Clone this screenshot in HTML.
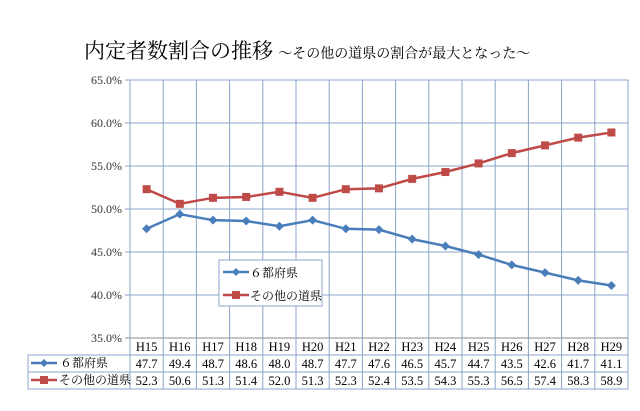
<!DOCTYPE html>
<html><head><meta charset="utf-8"><style>
body{margin:0;background:#fff;width:640px;height:406px;overflow:hidden}
svg text{font-family:"Liberation Serif","Noto Serif CJK SC",serif}
</style></head><body>
<svg width="640" height="406">
<script>
const cats=["H15","H16","H17","H18","H19","H20","H21","H22","H23","H24","H25","H26","H27","H28","H29"];
const seriesA=[47.7,49.4,48.7,48.6,48.0,48.7,47.7,47.6,46.5,45.7,44.7,43.5,42.6,41.7,41.1];
const seriesB=[52.3,50.6,51.3,51.4,52.0,51.3,52.3,52.4,53.5,54.3,55.3,56.5,57.4,58.3,58.9];
const yTicks=[35,40,45,50,55,60,65];
</script>
<text x="84" y="58" font-size="21" font-family="'Liberation Sans','Noto Sans CJK JP',sans-serif">内定者数割合の推移 <tspan font-size="14">～その他の道県の割合が最大となった～</tspan></text>
<g id="g"></g>
<script>
const NS="http://www.w3.org/2000/svg",g=document.getElementById('g');
const L=130,R=628,T=80,B=338,cw=(R-L)/cats.length;
const y=v=>B-(v-35)/30*(B-T), x=i=>L+cw*(i+0.5);
function mk(t,a,p){const e=document.createElementNS(NS,t);for(const k in a)e.setAttribute(k,a[k]);(p||g).appendChild(e);return e;}
yTicks.forEach(v=>{
 const l=mk('line',{x1:L-5,x2:R,y1:y(v),y2:y(v),stroke:v==35?'#888':'#8ba3c8','stroke-width':1});
 
 
 const t=mk('text',{x:L-8,y:y(v)+4,'font-size':12,'text-anchor':'end',fill:'#333'});t.textContent=v.toFixed(1)+'%';
 
 
});
for(let i=0;i<=cats.length;i++){const l=mk('line',{x1:L+cw*i,x2:L+cw*i,y1:T,y2:389,stroke:'#8ba3c8'});
 
 }
[355,372,389].forEach(yy=>{const l=mk('line',{x1:28,x2:R,y1:yy,y2:yy,stroke:'#8ba3c8'});
 
 });
mk('line',{x1:28,x2:28,y1:355,y2:389,stroke:'#8ba3c8'});
cats.forEach((c,i)=>{
 const t=mk('text',{x:x(i),y:351,'font-size':12.5,'text-anchor':'middle'});t.textContent=c;
 
 
 const a=mk('text',{x:x(i),y:368,'font-size':12.5,'text-anchor':'middle'});a.textContent=seriesA[i].toFixed(1);
 
 
 const b=mk('text',{x:x(i),y:385,'font-size':12.5,'text-anchor':'middle'});b.textContent=seriesB[i].toFixed(1);
 
 
});
function series(d,col,shape,name){
 const p=mk('polyline',{points:d.map((v,i)=>x(i)+','+y(v)).join(' '),fill:'none',stroke:col,'stroke-width':2.5});
 
 
 d.forEach((v,i)=>{let m;
  if(shape=='d')m=mk('polygon',{points:`${x(i)},${y(v)-4.5} ${x(i)+4.5},${y(v)} ${x(i)},${y(v)+4.5} ${x(i)-4.5},${y(v)}`,fill:col});
  else m=mk('rect',{x:x(i)-4,y:y(v)-4,width:8,height:8,fill:col});
  
  });
}
series(seriesA,'#4a7ebb','d','series-6');
series(seriesB,'#be4b48','s','series-other');
function legendKey(x0,yy,col,shape){mk('line',{x1:x0,x2:x0+26,y1:yy,y2:yy,stroke:col,'stroke-width':2.5});
 if(shape=='d')mk('polygon',{points:`${x0+13},${yy-4} ${x0+17},${yy} ${x0+13},${yy+4} ${x0+9},${yy}`,fill:col});
 else mk('rect',{x:x0+9,y:yy-4,width:8,height:8,fill:col});}
const lb=mk('rect',{x:219,y:260,width:103,height:46,fill:'#fff',stroke:'#8ba3c8'});


legendKey(223,272,'#4a7ebb','d');legendKey(223,295,'#be4b48','s');
const f="'Liberation Sans','Noto Sans CJK JP',sans-serif";
[[250,277,'６都府県'],[250,300,'その他の道県']].forEach(([a,b,s])=>{const t=mk('text',{x:a,y:b,'font-size':12,'font-family':f});t.textContent=s;
 
 });
legendKey(31,363,'#4a7ebb','d');legendKey(31,380,'#be4b48','s');
[[60,367,'６都府県'],[59,384,'その他の道県']].forEach(([a,b,s])=>{const t=mk('text',{x:a,y:b,'font-size':12,'font-family':f});t.textContent=s;
 
 });
</script>
</svg>
</body></html>
